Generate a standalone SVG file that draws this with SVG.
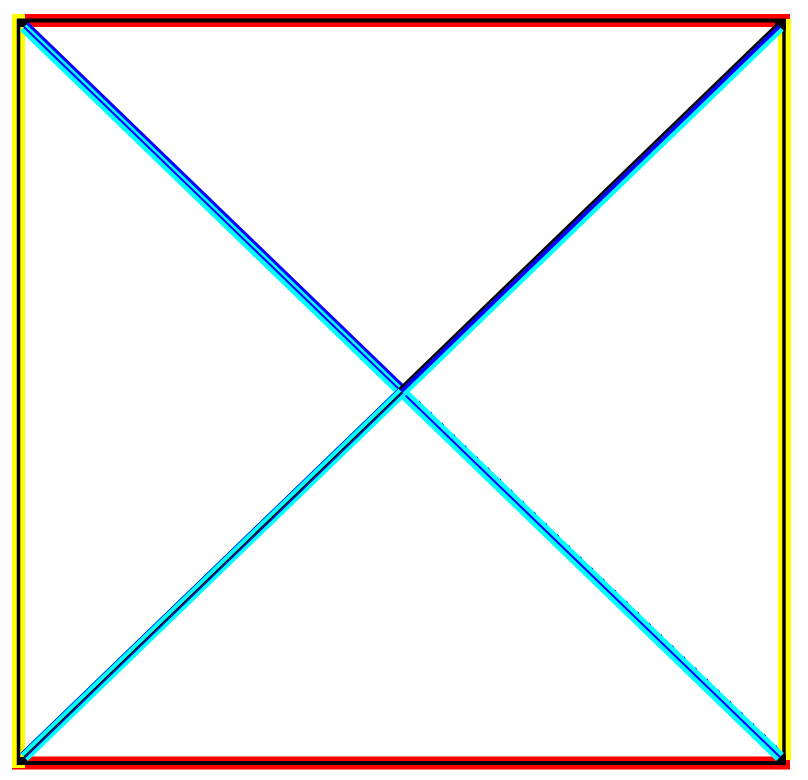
<svg xmlns="http://www.w3.org/2000/svg" width="808" height="780" viewBox="0 0 808 780">
<style>
.red{stroke:#ff0000;stroke-width:13;fill:none}
.yel{stroke:#ffff00;stroke-width:13;fill:none}
.blk{stroke:#000000;fill:none}
.cyan{stroke:#00ffff;fill:none}
.blue{stroke:#0000ff;fill:none}
</style>
<rect width="808" height="780" fill="#ffffff"/>
<g id="frame">
<line class="red" x1="14" y1="20.5" x2="790" y2="20.5"/>
<line class="red" x1="12" y1="763" x2="790" y2="763"/>
<line class="yel" x1="18.5" y1="14" x2="18.5" y2="768"/>
<line class="yel" x1="784.5" y1="19" x2="784.5" y2="760"/>
<path class="blk" stroke-width="4" d="M17 20.5 H786 M17 763 H786"/>
<path class="blk" stroke-width="3.5" d="M18.5 19 V765 M784 19 V765"/>
<rect x="17" y="19" width="12" height="8" fill="#000"/>
<rect x="775" y="19" width="11" height="11" fill="#000"/>
<rect x="17" y="757" width="10" height="8" fill="#000"/>
<rect x="776" y="755" width="10" height="10" fill="#000"/>
</g>
<g id="connectors">
<line class="cyan" stroke-width="11" x1="24" y1="27" x2="780" y2="757"/>
<line class="blue" stroke-width="3" x1="27.5" y1="23.4" x2="405.5" y2="388.4"/>
<line class="blue" stroke-width="2" x1="24" y1="27" x2="780" y2="757"/>
<line class="blue" stroke-width="1" x1="27.8" y1="23.1" x2="783.8" y2="753.1" stroke-dasharray="2 14"/>
<line class="cyan" stroke-width="11" x1="24" y1="757" x2="402" y2="392"/>
<line class="blue" stroke-width="1" x1="20.5" y1="753.4" x2="398.5" y2="388.4"/>
<line class="blue" stroke-width="1.2" x1="24.9" y1="757.9" x2="402.9" y2="392.9"/>
<line class="blk" stroke-width="1.5" x1="24" y1="757" x2="402" y2="392"/>
<line class="cyan" stroke-width="4.5" x1="404.1" y1="394.2" x2="782.1" y2="29.2"/>
<line class="blue" stroke-width="4" x1="401.3" y1="391.3" x2="779.3" y2="26.3"/>
<line class="blk" stroke-width="2.5" x1="399.2" y1="389.1" x2="777.2" y2="24.1"/>
</g>
</svg>
